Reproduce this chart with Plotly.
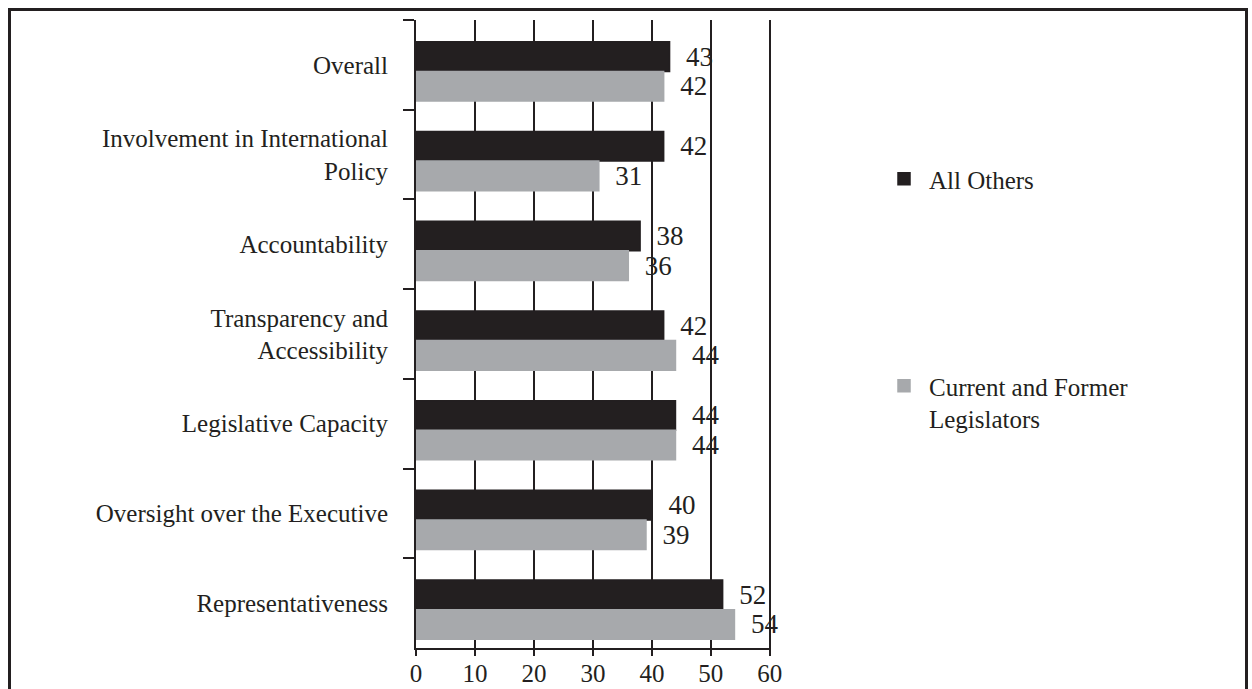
import plotly.graph_objects as go

# Survey scores by dimension, two respondent groups
categories = [
    "Overall",
    "Involvement in International<br>Policy",
    "Accountability",
    "Transparency and<br>Accessibility",
    "Legislative Capacity",
    "Oversight over the Executive",
    "Representativeness",
]
all_others = [43, 42, 38, 42, 44, 40, 52]
legislators = [42, 31, 36, 44, 44, 39, 54]
x_ticks = [0, 10, 20, 30, 40, 50, 60]

series_names = ["\u2009All Others", "\u2009Current and Former<br>\u2009Legislators"]

INK = "#231f20"
GREY = "#a7a9ac"
SERIF = "Liberation Serif, Times New Roman, serif"

W, H = 1252, 689
X_MAX = 60.2  # a little headroom so the gridline at 60 is drawn
ML, MR, MT, MB = 416, W - 771, 20, H - 648
PW, PH = W - ML - MR, H - MT - MB

BAR_W = 0.33
GROUP_SHIFT = 0.073  # groups sit slightly below the category centre

fig = go.Figure()
for name, vals, color, off, leg in [
    (series_names[0], all_others, INK, GROUP_SHIFT - BAR_W, "legend"),
    (series_names[1], legislators, GREY, GROUP_SHIFT, "legend2"),
]:
    fig.add_trace(go.Bar(
        y=categories, x=vals, orientation="h", name=name,
        marker=dict(color=color, line=dict(width=1.5, color=color)),
        width=BAR_W, offset=off,
        text=vals, texttemplate="\u2002%{x}", textposition="outside",
        constraintext="none", cliponaxis=False,
        textfont=dict(family=SERIF, size=27, color=INK),
        legend=leg,
    ))


def px_to_paper_x(px):
    return (px - ML) / PW


def px_to_paper_y(py):
    return (H - MB - py) / PH


legend_style = dict(
    xanchor="left", yanchor="top",
    font=dict(family=SERIF, size=25, color=INK), bgcolor="rgba(0,0,0,0)",
    valign="top",
)

fig.update_layout(
    width=W, height=H,
    margin=dict(l=ML, r=MR, t=MT, b=MB, pad=0, autoexpand=False),
    barmode="overlay",
    plot_bgcolor="white", paper_bgcolor="white",
    font=dict(family=SERIF, size=25, color=INK),
    showlegend=True,
    legend=dict(x=px_to_paper_x(884), y=px_to_paper_y(156), **legend_style),
    legend2=dict(x=px_to_paper_x(884), y=px_to_paper_y(363), **legend_style),
    xaxis=dict(
        range=[0, X_MAX], tickvals=x_ticks, ticktext=[str(v) for v in x_ticks],
        showgrid=True, gridcolor=INK, gridwidth=2,
        showline=True, linecolor=INK, linewidth=2,
        ticks="outside", ticklen=6, tickwidth=2, tickcolor=INK,
        ticklabelstandoff=-4, automargin=False,
        zeroline=False, tickfont=dict(family=SERIF, size=25, color=INK),
        fixedrange=True,
    ),
    yaxis=dict(
        autorange="reversed", type="category",
        showgrid=False, zeroline=False,
        showline=True, linecolor=INK, linewidth=2,
        ticks="outside", tickson="boundaries", ticklen=11, tickwidth=2, tickcolor=INK,
        ticklabelstandoff=21, automargin=False,
        tickfont=dict(family=SERIF, size=25, color=INK),
        fixedrange=True,
    ),
    shapes=[dict(
        type="rect", xref="paper", yref="paper",
        x0=px_to_paper_x(9.5), x1=px_to_paper_x(1246.5),
        y0=px_to_paper_y(720), y1=px_to_paper_y(9.5),
        line=dict(color=INK, width=3), fillcolor="rgba(0,0,0,0)", layer="above",
    )],
)

fig.write_html("out.html")
